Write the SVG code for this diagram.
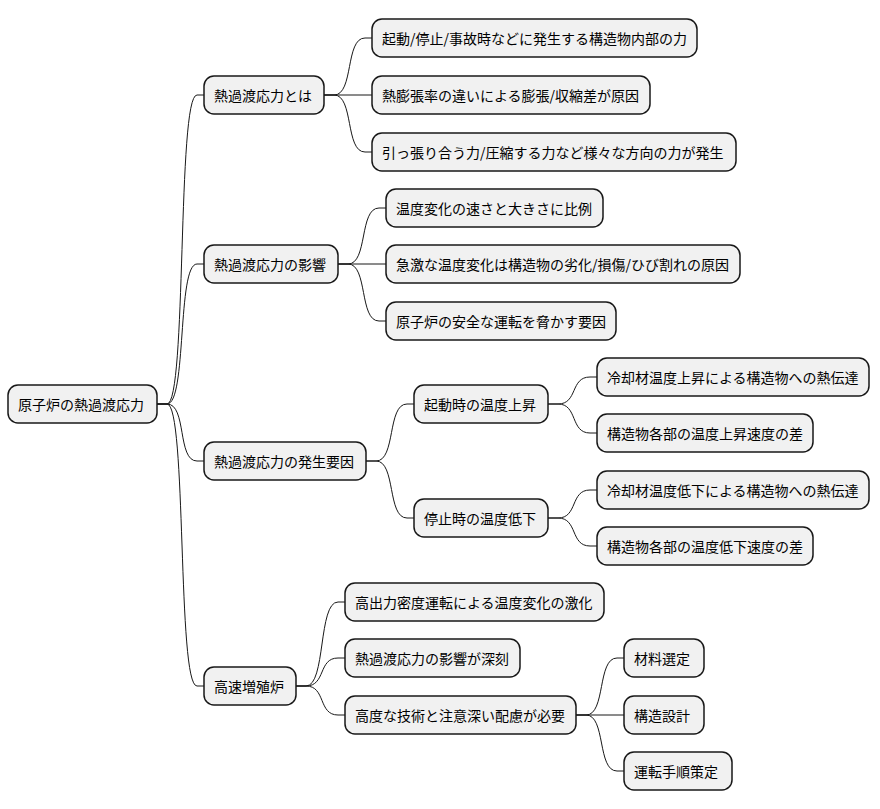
<svg xmlns="http://www.w3.org/2000/svg" width="880" height="809" viewBox="0 0 880 809">
<style>
.n rect{fill:#F1F1F1;stroke:#181818;stroke-width:1.5}
.n text{font-family:"Noto Sans CJK JP","Noto Sans",sans-serif;font-size:14px;fill:#000;dominant-baseline:central}
#c path{fill:none;stroke:#181818;stroke-width:1}
</style>
<rect width="880" height="809" fill="#fff"/>
<g id="c">
<path d="M157,404 L167,404 C187,404 177,95 197,95 L204,95"/>
<path d="M157,404 L167,404 C187,404 177,264 197,264 L204,264"/>
<path d="M157,404 L167,404 C187,404 177,461 197,461 L204,461"/>
<path d="M157,404 L167,404 C187,404 177,686 197,686 L204,686"/>
<path d="M324,95 L334,95 C354,95 345,38 365,38 L372,38"/>
<path d="M324,95 L372,95"/>
<path d="M324,95 L334,95 C354,95 345,152 365,152 L372,152"/>
<path d="M338,264 L348,264 C368,264 359,208 379,208 L386,208"/>
<path d="M338,264 L386,264"/>
<path d="M338,264 L348,264 C368,264 359,321 379,321 L386,321"/>
<path d="M366,461 L376,461 C396,461 387,404 407,404 L414,404"/>
<path d="M366,461 L376,461 C396,461 387,518 407,518 L414,518"/>
<path d="M548,404 L558,404 C578,404 570,377 590,377 L597,377"/>
<path d="M548,404 L558,404 C578,404 570,433 590,433 L597,433"/>
<path d="M548,518 L558,518 C578,518 570,490 590,490 L597,490"/>
<path d="M548,518 L558,518 C578,518 570,546 590,546 L597,546"/>
<path d="M296,686 L306,686 C326,686 318,602 338,602 L345,602"/>
<path d="M296,686 L306,686 C326,686 318,658 338,658 L345,658"/>
<path d="M296,686 L306,686 C326,686 318,715 338,715 L345,715"/>
<path d="M576,715 L586,715 C606,715 597,658 617,658 L624,658"/>
<path d="M576,715 L624,715"/>
<path d="M576,715 L586,715 C606,715 597,771 617,771 L624,771"/>
</g>
<g id="root" class="n"><rect x="8" y="385" width="149" height="38" rx="10"/><text x="18" y="404">原子炉の熱過渡応力</text></g>
<g id="a" class="n"><rect x="204" y="76" width="120" height="38" rx="10"/><text x="214" y="95">熱過渡応力とは</text></g>
<g id="a1" class="n"><rect x="372" y="19" width="325" height="38" rx="10"/><text x="382" y="38">起動/停止/事故時などに発生する構造物内部の力</text></g>
<g id="a2" class="n"><rect x="372" y="76" width="278" height="38" rx="10"/><text x="382" y="95">熱膨張率の違いによる膨張/収縮差が原因</text></g>
<g id="a3" class="n"><rect x="372" y="133" width="364" height="38" rx="10"/><text x="382" y="152">引っ張り合う力/圧縮する力など様々な方向の力が発生</text></g>
<g id="b" class="n"><rect x="204" y="245" width="134" height="38" rx="10"/><text x="214" y="264">熱過渡応力の影響</text></g>
<g id="b1" class="n"><rect x="386" y="189" width="217" height="38" rx="10"/><text x="396" y="208">温度変化の速さと大きさに比例</text></g>
<g id="b2" class="n"><rect x="386" y="245" width="354" height="38" rx="10"/><text x="396" y="264">急激な温度変化は構造物の劣化/損傷/ひび割れの原因</text></g>
<g id="b3" class="n"><rect x="386" y="302" width="230" height="38" rx="10"/><text x="396" y="321">原子炉の安全な運転を脅かす要因</text></g>
<g id="d" class="n"><rect x="204" y="442" width="162" height="38" rx="10"/><text x="214" y="461">熱過渡応力の発生要因</text></g>
<g id="d1" class="n"><rect x="414" y="385" width="134" height="38" rx="10"/><text x="424" y="404">起動時の温度上昇</text></g>
<g id="d2" class="n"><rect x="414" y="499" width="134" height="38" rx="10"/><text x="424" y="518">停止時の温度低下</text></g>
<g id="d11" class="n"><rect x="597" y="358" width="272" height="38" rx="10"/><text x="607" y="377">冷却材温度上昇による構造物への熱伝達</text></g>
<g id="d12" class="n"><rect x="597" y="414" width="216" height="38" rx="10"/><text x="607" y="433">構造物各部の温度上昇速度の差</text></g>
<g id="d21" class="n"><rect x="597" y="471" width="272" height="38" rx="10"/><text x="607" y="490">冷却材温度低下による構造物への熱伝達</text></g>
<g id="d22" class="n"><rect x="597" y="527" width="216" height="38" rx="10"/><text x="607" y="546">構造物各部の温度低下速度の差</text></g>
<g id="e" class="n"><rect x="204" y="667" width="92" height="38" rx="10"/><text x="214" y="686">高速増殖炉</text></g>
<g id="e1" class="n"><rect x="345" y="583" width="259" height="38" rx="10"/><text x="355" y="602">高出力密度運転による温度変化の激化</text></g>
<g id="e2" class="n"><rect x="345" y="639" width="175" height="38" rx="10"/><text x="355" y="658">熱過渡応力の影響が深刻</text></g>
<g id="e3" class="n"><rect x="345" y="696" width="231" height="38" rx="10"/><text x="355" y="715">高度な技術と注意深い配慮が必要</text></g>
<g id="e31" class="n"><rect x="624" y="639" width="80" height="38" rx="10"/><text x="634" y="658">材料選定</text></g>
<g id="e32" class="n"><rect x="624" y="696" width="80" height="38" rx="10"/><text x="634" y="715">構造設計</text></g>
<g id="e33" class="n"><rect x="624" y="752" width="108" height="38" rx="10"/><text x="634" y="771">運転手順策定</text></g>
</svg>
